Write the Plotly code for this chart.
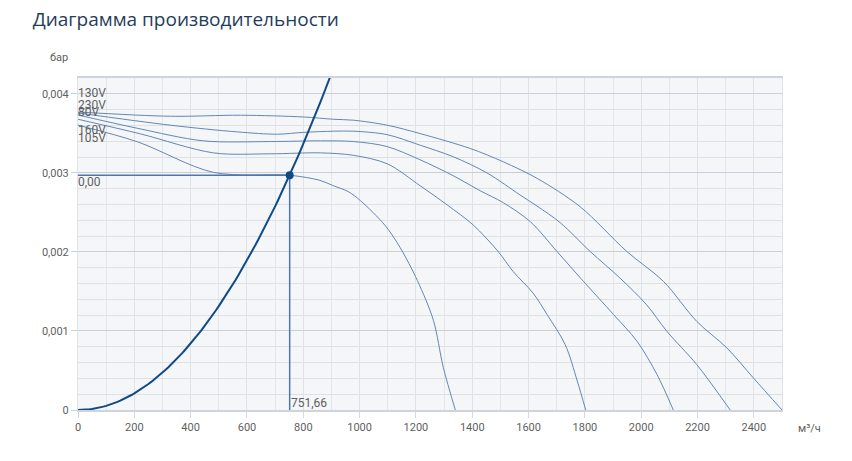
import plotly.graph_objects as go

# Fan curves (flow m3/h, pressure bar)
q_130v = [0, 328, 577, 800, 907, 978, 1098, 1215, 1393, 1510, 1631, 1783, 1949, 2079, 2197, 2304, 2398, 2500]
p_130v = [0.003770, 0.003716, 0.003729, 0.003707, 0.003678, 0.003666, 0.003603, 0.003497, 0.003308,
          0.003140, 0.002929, 0.002572, 0.002005, 0.001627, 0.001122, 0.000786, 0.000407, 0.0]

q_230v = [0, 328, 566, 708, 800, 907, 979, 1097, 1215, 1333, 1452, 1570, 1630, 1712, 1819, 1925,
          2019, 2091, 2197, 2316]
p_230v = [0.003758, 0.003603, 0.003518, 0.003489, 0.003512, 0.003527, 0.003527, 0.003484, 0.003350,
          0.003203, 0.003000, 0.002720, 0.002580, 0.002371, 0.002005, 0.001668, 0.001332,
          0.000996, 0.000576, 0.0]

q_80v = [0, 211, 445, 683, 861, 979, 1097, 1215, 1333, 1428, 1510, 1606, 1701, 1795, 1902, 1985, 2056, 2114]
p_80v = [0.003732, 0.003564, 0.003405, 0.003396, 0.003405, 0.003396, 0.003333, 0.003165, 0.002963,
         0.002774, 0.002623, 0.002383, 0.002005, 0.001627, 0.001207, 0.000870, 0.000450, 0.0]

q_160v = [0, 222, 481, 683, 861, 978, 1098, 1215, 1311, 1403, 1492, 1545, 1616, 1666, 1730, 1773, 1803]
p_160v = [0.003678, 0.003493, 0.003253, 0.003241, 0.003253, 0.003222, 0.003115, 0.002837, 0.002594,
          0.002342, 0.002005, 0.001753, 0.001479, 0.001206, 0.000828, 0.000366, 0.0]

q_105v = [0, 211, 481, 751.66, 859, 907, 960, 1003, 1091, 1144, 1205, 1262, 1297, 1340]
p_105v = [0.003603, 0.003393, 0.003006, 0.002970, 0.002905, 0.002837, 0.002762, 0.002648, 0.002333,
          0.002055, 0.001639, 0.001135, 0.000542, 0.0]

# Curve labels and where they sit on the left edge
curve_labels = ["130V", "230V", "80V", "160V", "105V"]
label_p = [0.004013, 0.003860, 0.003770, 0.003544, 0.003443]

# Operating point and the marked point on the system curve
work_q = 751.66
work_p = 0.00297
mark_q = 508

# System curve  p = k * q^2 through the operating point
sys_q = [i * 10 for i in range(0, 91)]
k = work_p / work_q ** 2
sys_p = [k * q ** 2 for q in sys_q]

y_ticks = [0, 0.001, 0.002, 0.003, 0.004]
y_tick_text = ["0", "0,001", "0,002", "0,003", "0,004"]

FAN = "#6487b4"
NAVY = "#0f4a87"
GREY = "#5f5f5f"

fig = go.Figure()

for q, p in [(q_130v, p_130v), (q_230v, p_230v), (q_80v, p_80v), (q_160v, p_160v), (q_105v, p_105v)]:
    fig.add_trace(go.Scatter(x=q, y=p, mode="lines", line=dict(color=FAN, width=1, shape="spline", smoothing=0.9),
                             hoverinfo="skip", showlegend=False))

# Operating point guide lines
fig.add_trace(go.Scatter(x=[0, work_q, work_q], y=[work_p, work_p, 0], mode="lines",
                         line=dict(color="#4f77aa", width=1.5), showlegend=False, hoverinfo="skip"))

fig.add_trace(go.Scatter(x=sys_q, y=sys_p, mode="lines", line=dict(color=NAVY, width=2),
                         showlegend=False, hoverinfo="skip"))

fig.add_trace(go.Scatter(x=[work_q], y=[work_p], mode="markers",
                         marker=dict(color=NAVY, size=8), showlegend=False))
fig.add_trace(go.Scatter(x=[mark_q], y=[k * mark_q ** 2], mode="markers",
                         marker=dict(color="rgba(0,0,0,0)", size=13, line=dict(color=NAVY, width=2),
                                     symbol="circle-open"),
                         showlegend=False))

for text, p in zip(curve_labels, label_p):
    fig.add_annotation(x=0, y=p, text=text, showarrow=False, xanchor="left", yanchor="middle",
                       xshift=-2, font=dict(size=12, color=GREY, family="Roboto"))

fig.add_annotation(x=0, y=work_p, text="0,00", showarrow=False, xanchor="left", yanchor="top",
                   xshift=-2, yshift=2, font=dict(size=12, color=GREY, family="Roboto"))
fig.add_annotation(x=work_q, y=0, text="751,66", showarrow=False, xanchor="left", yanchor="bottom",
                   xshift=-1, yshift=-2, font=dict(size=12, color=GREY, family="Roboto"))

fig.add_annotation(x=0, y=1, xref="paper", yref="paper", text="бар", showarrow=False,
                   xanchor="right", yanchor="middle", xshift=-8, yshift=21,
                   font=dict(size=11, color=GREY, family="Roboto"))
fig.add_annotation(x=1, y=0, xref="paper", yref="paper", text="м³/ч", showarrow=False,
                   xanchor="left", yanchor="middle", xshift=14, yshift=-18,
                   font=dict(size=11, color=GREY, family="Roboto"))

# the page adds 8px of body margin on the left and top
fig.update_layout(
    width=852,
    height=461,
    margin=dict(l=70, r=78, t=70, b=59),
    paper_bgcolor="white",
    plot_bgcolor="#f4f6f8",
    separators=", ",
    title=dict(text="Диаграмма производительности", x=0.029, xanchor="left", y=0.976, yanchor="middle",
               font=dict(size=19, color="#1f3d5c", family="Open Sans")),
    font=dict(family="Roboto", size=11, color=GREY),
)

fig.update_xaxes(
    range=[0, 2500], dtick=200, tick0=0,
    showgrid=True, gridcolor="#dfe2e7", gridwidth=1,
    minor=dict(dtick=100, showgrid=True, gridcolor="#e4e6ea", gridwidth=1),
    ticks="outside", ticklen=6, tickcolor="#d4d8de",
    showline=True, linecolor="#cfd4dc", linewidth=1.5, mirror=True,
    zeroline=False, tickfont=dict(size=11, color=GREY),
)
fig.update_yaxes(
    range=[0, 0.0042], tickvals=y_ticks, ticktext=y_tick_text,
    showgrid=True, gridcolor="#c9cfd8", gridwidth=1,
    minor=dict(tickvals=[i * 0.0002 for i in range(22)], showgrid=True, gridcolor="#dde0e5", gridwidth=1),
    ticks="outside", ticklen=6, tickcolor="#c9cfd8",
    showline=True, linecolor="#dfe2e7", linewidth=1, mirror=True,
    zeroline=False, tickfont=dict(size=11, color=GREY),
)

fig.write_html("out.html")
